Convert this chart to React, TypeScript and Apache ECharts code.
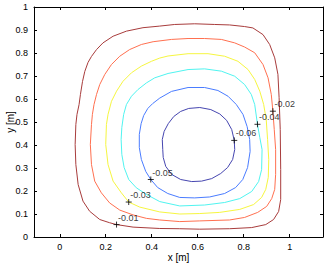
import React, { useEffect, useRef } from "react";
import * as echarts from "echarts";

// Contour levels and their colours
const levels = ["-0.01", "-0.02", "-0.03", "-0.04", "-0.05", "-0.06"];
const levelColors = ["#a83c3c", "#ff7050", "#f6f640", "#50f4f0", "#4a7cff", "#4646b0"];

// Contour lines ([x, y] in metres)
const c01: number[][] = [
  [0.070, 0.315], [0.067, 0.402], [0.070, 0.489], [0.075, 0.533], [0.084, 0.576], [0.090, 0.620],
  [0.099, 0.676], [0.109, 0.720], [0.123, 0.759], [0.138, 0.785], [0.160, 0.815], [0.188, 0.844],
  [0.232, 0.873], [0.290, 0.895], [0.362, 0.910], [0.435, 0.917], [0.500, 0.924], [0.587, 0.927],
  [0.674, 0.924], [0.739, 0.922], [0.804, 0.915], [0.840, 0.909], [0.884, 0.880], [0.913, 0.837],
  [0.935, 0.779], [0.949, 0.707], [0.954, 0.607], [0.959, 0.467], [0.961, 0.293], [0.961, 0.163],
  [0.952, 0.111], [0.930, 0.076], [0.896, 0.054], [0.835, 0.041], [0.739, 0.036], [0.609, 0.034],
  [0.522, 0.036], [0.435, 0.037], [0.319, 0.043], [0.247, 0.054], [0.217, 0.062], [0.174, 0.076],
  [0.130, 0.112], [0.101, 0.156], [0.080, 0.228], [0.070, 0.315],
];
const c02: number[][] = [
  [0.138, 0.315], [0.133, 0.402], [0.138, 0.489], [0.142, 0.533], [0.149, 0.576], [0.160, 0.620],
  [0.174, 0.663], [0.196, 0.707], [0.225, 0.750], [0.261, 0.786], [0.304, 0.815], [0.355, 0.837],
  [0.406, 0.849], [0.486, 0.859], [0.558, 0.863], [0.630, 0.863], [0.703, 0.859], [0.761, 0.844],
  [0.804, 0.826], [0.848, 0.801], [0.884, 0.750], [0.906, 0.692], [0.920, 0.620], [0.927, 0.547],
  [0.933, 0.467], [0.939, 0.380], [0.939, 0.272], [0.935, 0.207], [0.922, 0.167], [0.900, 0.133],
  [0.861, 0.107], [0.804, 0.085], [0.739, 0.074], [0.609, 0.070], [0.522, 0.067], [0.435, 0.074],
  [0.377, 0.081], [0.319, 0.096], [0.261, 0.117], [0.217, 0.148], [0.181, 0.192], [0.152, 0.243],
  [0.138, 0.315],
];
const c03: number[][] = [
  [0.200, 0.402], [0.203, 0.489], [0.210, 0.533], [0.225, 0.590], [0.247, 0.634], [0.275, 0.677],
  [0.312, 0.714], [0.355, 0.743], [0.399, 0.764], [0.435, 0.778], [0.471, 0.787], [0.558, 0.797],
  [0.645, 0.797], [0.717, 0.786], [0.775, 0.764], [0.819, 0.728], [0.848, 0.685], [0.870, 0.634],
  [0.887, 0.576], [0.898, 0.511], [0.904, 0.424], [0.909, 0.337], [0.907, 0.259], [0.896, 0.207],
  [0.878, 0.172], [0.843, 0.141], [0.783, 0.120], [0.696, 0.107], [0.609, 0.102], [0.522, 0.100],
  [0.435, 0.109], [0.348, 0.130], [0.300, 0.152], [0.268, 0.192], [0.232, 0.243], [0.210, 0.315],
  [0.200, 0.402],
];
const c04: number[][] = [
  [0.267, 0.424], [0.270, 0.476], [0.278, 0.533], [0.290, 0.576], [0.312, 0.612], [0.340, 0.641],
  [0.377, 0.670], [0.413, 0.692], [0.471, 0.711], [0.558, 0.728], [0.630, 0.731], [0.703, 0.721],
  [0.761, 0.699], [0.804, 0.663], [0.833, 0.620], [0.848, 0.576], [0.860, 0.490], [0.870, 0.433],
  [0.880, 0.380], [0.878, 0.293], [0.865, 0.241], [0.835, 0.198], [0.783, 0.167], [0.717, 0.150],
  [0.630, 0.139], [0.522, 0.135], [0.435, 0.154], [0.377, 0.185], [0.333, 0.214], [0.300, 0.250],
  [0.280, 0.302], [0.270, 0.359], [0.267, 0.424],
];
const c05: number[][] = [
  [0.396, 0.250], [0.374, 0.285], [0.355, 0.337], [0.346, 0.389], [0.346, 0.446], [0.354, 0.493],
  [0.365, 0.528], [0.383, 0.559], [0.404, 0.580], [0.435, 0.604], [0.486, 0.633], [0.558, 0.650],
  [0.630, 0.650], [0.688, 0.637], [0.732, 0.612], [0.768, 0.576], [0.797, 0.533], [0.815, 0.480],
  [0.826, 0.424], [0.828, 0.372], [0.817, 0.302], [0.796, 0.250], [0.765, 0.215], [0.717, 0.189],
  [0.652, 0.174], [0.587, 0.170], [0.522, 0.172], [0.470, 0.189], [0.426, 0.215], [0.396, 0.250],
];
const c06: number[][] = [
  [0.448, 0.380], [0.446, 0.424], [0.454, 0.459], [0.472, 0.493], [0.496, 0.524], [0.526, 0.546],
  [0.561, 0.559], [0.609, 0.563], [0.657, 0.554], [0.696, 0.535], [0.726, 0.507], [0.748, 0.467],
  [0.759, 0.420], [0.761, 0.380], [0.752, 0.337], [0.730, 0.302], [0.700, 0.276], [0.661, 0.254],
  [0.617, 0.243], [0.574, 0.241], [0.526, 0.250], [0.487, 0.272], [0.461, 0.307], [0.450, 0.346],
  [0.448, 0.380],
];
const contours = [c01, c02, c03, c04, c05, c06];

// Contour label positions (the "+" marks)
const labelX = [0.247, 0.927, 0.300, 0.860, 0.396, 0.759];
const labelY = [0.054, 0.547, 0.152, 0.490, 0.250, 0.420];
const labelText = ["-0.01", "-0.02", "-0.03", "-0.04", "-0.05", "-0.06"];

// Axis ticks
const xTicks = [0, 0.2, 0.4, 0.6, 0.8, 1];
const xMin = -0.112;
const xMax = 1.145;

const fontFam = "'Liberation Sans', Arial, Helvetica, sans-serif";

export default function App() {
  const ref = useRef<HTMLDivElement>(null);
  useEffect(() => {
    document.body.style.margin = "0";
    if (!ref.current) return;
    const chart = echarts.init(ref.current, undefined, { renderer: "svg" });
    const lineStyleAxis = { color: "#000", width: 1 };
    const tickIn = { show: true, inside: true, length: 3, lineStyle: lineStyleAxis };
    const xFmt = (v: number) => String(Math.round(v * 10) / 10);
    const yFmt = (v: number) => String(Math.round(v * 10) / 10);
    const option: any = {
      animation: false,
      backgroundColor: "#fff",
      grid: { left: 34, right: 9, top: 7, bottom: 32, containLabel: false, outerBoundsMode: "none" },
      xAxis: [
        {
          type: "value", min: xMin, max: xMax, position: "bottom",
          axisLine: { show: true, onZero: false, lineStyle: lineStyleAxis },
          axisTick: { ...tickIn, customValues: xTicks },
          axisLabel: { customValues: xTicks, formatter: xFmt, color: "#000", fontSize: 9, margin: 5, fontFamily: fontFam },
          splitLine: { show: false },
          name: "x [m]", nameLocation: "middle", nameGap: 15, nameMoveOverlap: false,
          nameTextStyle: { color: "#000", fontSize: 10, fontFamily: fontFam },
        },
        {
          type: "value", min: xMin, max: xMax, position: "top",
          axisLine: { show: true, onZero: false, lineStyle: lineStyleAxis },
          axisTick: { ...tickIn, customValues: xTicks },
          axisLabel: { show: false },
          splitLine: { show: false },
        },
      ],
      yAxis: [
        {
          type: "value", min: 0, max: 1, interval: 0.1, position: "left",
          axisLine: { show: true, onZero: false, lineStyle: lineStyleAxis },
          axisTick: tickIn,
          axisLabel: { formatter: yFmt, color: "#000", fontSize: 9, margin: 6, fontFamily: fontFam },
          splitLine: { show: false },
          name: "y [m]", nameLocation: "middle", nameGap: 19, nameRotate: 90, nameMoveOverlap: false,
          nameTextStyle: { color: "#000", fontSize: 10, fontFamily: fontFam },
        },
        {
          type: "value", min: 0, max: 1, interval: 0.1, position: "right",
          axisLine: { show: true, onZero: false, lineStyle: lineStyleAxis },
          axisTick: tickIn,
          axisLabel: { show: false },
          splitLine: { show: false },
        },
      ],
      series: [
        ...contours.map((d, i) => ({
          type: "line",
          name: levels[i],
          data: d,
          xAxisIndex: 0,
          yAxisIndex: 0,
          showSymbol: false,
          symbol: "none",
          smooth: false,
          silent: true,
          lineStyle: { color: levelColors[i], width: 1 },
          z: 2,
        })),
        {
          type: "scatter",
          xAxisIndex: 0,
          yAxisIndex: 0,
          symbol: "path://M0,5L10,5M5,0L5,10",
          symbolSize: 6,
          silent: true,
          itemStyle: { color: "rgba(0,0,0,0)", borderColor: "#000", borderWidth: 1 },
          label: {
            show: true,
            formatter: (p: any) => p.name,
            position: [5, -8],
            align: "left",
            verticalAlign: "top",
            color: "#000",
            fontSize: 9,
            fontFamily: fontFam,
          },
          data: labelX.map((x, i) => ({ name: labelText[i], value: [x, labelY[i]] })),
          z: 5,
        },
      ],
    };
    chart.setOption(option);
    return () => chart.dispose();
  }, []);
  return <div ref={ref} style={{ width: 332, height: 269 }} />;
}
